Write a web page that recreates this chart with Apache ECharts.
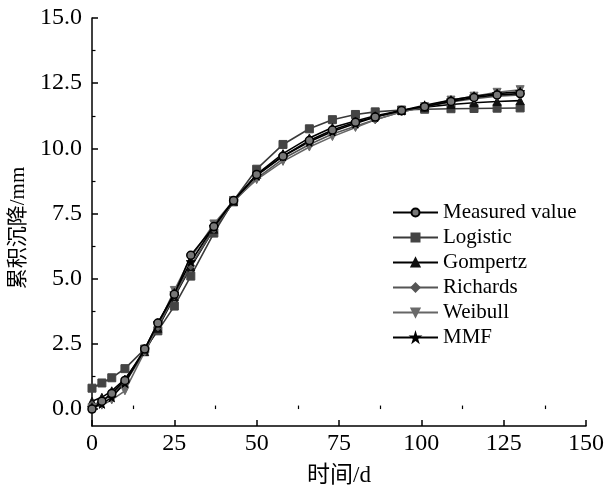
<!DOCTYPE html>
<html><head><meta charset="utf-8">
<script src="https://cdn.jsdelivr.net/npm/echarts@6/dist/echarts.min.js"></script>
<style>html,body{margin:0;padding:0;background:#fff}#c{width:612px;height:491px}</style>
</head><body><div id="c"></div>
<script>
const times = [0,3,6,10,16,20,25,30,37,43,50,58,66,73,80,86,94,101,109,116,123,130];
const measured = [0,0.3,0.6,1.1,2.3,3.3,4.4,5.9,7.0,8.0,9.0,9.7,10.3,10.7,11.0,11.2,11.45,11.6,11.8,11.95,12.05,12.1];
const logistic = [0.8,1.0,1.2,1.55,2.3,3.0,3.95,5.1,6.75,8.0,9.2,10.15,10.75,11.1,11.3,11.4,11.47,11.5,11.52,11.53,11.54,11.55];
const gompertz = [0.3,0.45,0.7,1.15,2.2,3.1,4.3,5.45,6.9,7.95,9.0,9.8,10.4,10.8,11.05,11.25,11.45,11.58,11.68,11.75,11.8,11.83];
const richards = [0.15,0.3,0.55,1.0,2.2,3.15,4.35,5.5,6.9,7.95,8.85,9.6,10.15,10.55,10.85,11.1,11.4,11.6,11.78,11.9,12.0,12.05];
const weibull = [0.05,0.15,0.35,0.7,2.2,3.2,4.55,5.8,7.1,8.0,8.8,9.5,10.05,10.45,10.8,11.1,11.4,11.6,11.85,12.0,12.15,12.25];
const mmf = [0.05,0.2,0.45,1.0,2.3,3.3,4.45,5.65,7.0,8.0,8.95,9.7,10.25,10.65,10.95,11.2,11.45,11.65,11.85,12.0,12.1,12.17];
const seriesNames = ['Measured value','Logistic','Gompertz','Richards','Weibull','MMF'];
const yMajor = [0,2.5,5,7.5,10,12.5,15];
const yMinor = [1.25,3.75,6.25,8.75,11.25,13.75];
const xMajor = [0,25,50,75,100,125,150];
const xMinor = [12.5,37.5,62.5,87.5,112.5,137.5];

const STAR = 'path://M50,0 L61,35 L98,35 L68,57 L79,91 L50,70 L21,91 L32,57 L2,35 L39,35 Z';
const font = '"Liberation Serif","Times New Roman",serif';
const cjk = '"Liberation Serif","Noto Sans CJK SC",serif';

function pts(arr){ return times.map((t,i)=>[t,arr[i]]); }
function mk(name, arr, lineColor, symbol, fill, opts){
  return Object.assign({
    name, type:'line', data: pts(arr), symbol, symbolSize: 8,
    lineStyle:{color: lineColor, width: 1.6},
    itemStyle:{color: fill, borderColor: fill, borderWidth: 1},
    emphasis:{disabled:true}, animation:false, z: 3
  }, opts||{});
}
const chart = echarts.init(document.getElementById('c'));
const axisLine = {show:true, onZero:false, lineStyle:{color:'#000', width:1.5}};
chart.setOption({
  animation:false,
  grid:{left:92, right:26, top:18, bottom:65, containLabel:false, outerBoundsMode:'none'},
  legend:{
    orient:'vertical', left:387, top:197, itemWidth:45, itemHeight:10, itemGap:4,
    textStyle:{fontFamily:font, fontSize:21, lineHeight:21, color:'#000'},
    data: seriesNames
  },
  xAxis:[{
    type:'value', min:0, max:150, interval:25,
    name:'时间/d', nameLocation:'middle', nameGap:38,
    nameTextStyle:{fontFamily:cjk, fontSize:23, color:'#000'},
    axisLine, splitLine:{show:false},
    axisTick:{inside:true, length:6, lineStyle:{color:'#000', width:1.5}, customValues:xMajor},
    axisLabel:{fontFamily:font, fontSize:24, color:'#000', margin:6, customValues:xMajor}
  },{
    type:'value', min:0, max:150, position:'bottom',
    axisLine:{show:false}, splitLine:{show:false}, axisLabel:{show:false},
    axisTick:{inside:true, length:3.5, lineStyle:{color:'#000', width:1.2}, customValues:xMinor}
  }],
  yAxis:[{
    type:'value', min:-0.65, max:15,
    name:'累积沉降/mm', nameLocation:'middle', nameGap:60, nameRotate:90,
    nameTextStyle:{fontFamily:cjk, fontSize:21, color:'#000', padding:[0,0,0,-12]},
    axisLine, splitLine:{show:false},
    axisTick:{inside:true, length:6, lineStyle:{color:'#000', width:1.5}, customValues:yMajor},
    axisLabel:{fontFamily:font, fontSize:24, color:'#000', margin:10, customValues:yMajor,
      formatter:v=>v.toFixed(1)}
  },{
    type:'value', min:-0.65, max:15, position:'left',
    axisLine:{show:false}, splitLine:{show:false}, axisLabel:{show:false},
    axisTick:{inside:true, length:3.5, lineStyle:{color:'#000', width:1.2}, customValues:yMinor}
  }],
  series:[
    mk('Logistic', logistic, '#3a3a3a', 'rect', '#444'),
    mk('Gompertz', gompertz, '#000', 'triangle', '#111'),
    mk('Richards', richards, '#555', 'diamond', '#555'),
    mk('Weibull', weibull, '#666', 'triangle', '#6a6a6a', {symbolRotate:180}),
    mk('MMF', mmf, '#000', STAR, '#000', {symbolSize:9}),
    mk('Measured value', measured, '#000', 'circle', '#777', {itemStyle:{color:'#777', borderColor:'#000', borderWidth:1.5}, z:4})
  ]
});
</script></body></html>
